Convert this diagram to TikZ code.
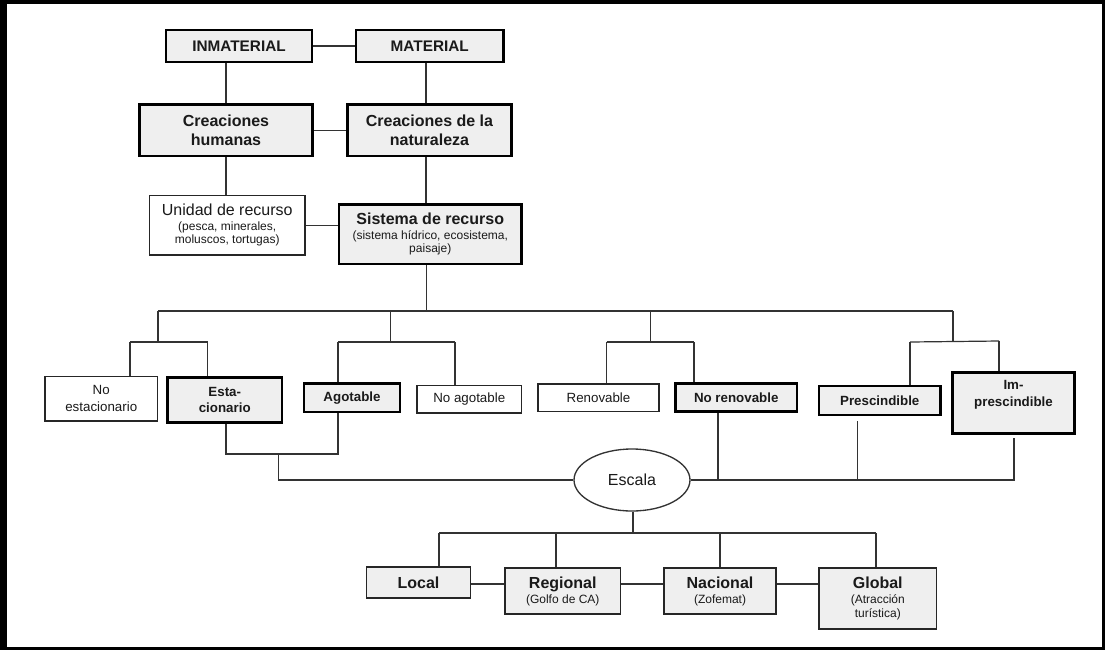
\documentclass[tikz,border=0pt]{standalone}
\usepackage{fontspec}
\setmainfont{Liberation Sans}
\usetikzlibrary{shapes.geometric,calc}
\definecolor{boxfill}{HTML}{EFEFEF}
\definecolor{ln}{HTML}{333333}
\definecolor{txt}{HTML}{1A1A1A}
\begin{document}
\begin{tikzpicture}[x=0.75pt,y=-0.75pt,
  sz/.style 2 args={minimum width=#1*0.75pt, minimum height=#2*0.75pt},
  base/.style={rectangle, inner sep=0pt, align=center, text=txt},
  gbox/.style={base, draw=black, line width=2pt, fill=boxfill},
  wbox/.style={base, draw=black!85, line width=1pt, fill=white},
  lbox/.style={base, draw=black!85, line width=1.2pt, fill=boxfill},
  conn/.style={draw=ln, line width=0.9pt},
  topf/.style={font=\fontsize{11.5}{13}\selectfont\bfseries},
  bigb/.style={font=\fontsize{12}{13.75}\selectfont\bfseries},
  smallf/.style={font=\fontsize{9}{10}\selectfont},
  midf/.style={font=\fontsize{10}{12.5}\selectfont},
  midb/.style={font=\fontsize{10}{12.5}\selectfont\bfseries},
  lowf/.style={font=\fontsize{9}{10.5}\selectfont}
]
\useasboundingbox (0,0) rectangle (1105,650);
\fill[black] (0,0) rectangle (1105,650);
\fill[white] (7,3.5) rectangle (1101.5,646.5);

% top levels
\node[gbox,sz={146}{32},topf] (inm) at (239,46) {INMATERIAL};
\node[gbox,sz={147.5}{32},topf] (mat) at (429.75,46) {MATERIAL};
\node[gbox,sz={173}{51.5},bigb] (ch) at (226,130.25) {Creaciones\\humanas};
\node[gbox,sz={164}{51.5},bigb] (cn) at (429.5,130.25) {Creaciones de la\\naturaleza};
\node[wbox,sz={155.5}{59.5},smallf] (uni) at (227.25,225.25)
  {{\fontsize{12}{14}\selectfont Unidad de recurso}\\[1pt](pesca, minerales,\\moluscos, tortugas)};
\node[gbox,sz={182.5}{59.5},smallf] (sis) at (430.25,234.25)
  {{\fontsize{12}{14}\selectfont\bfseries Sistema de recurso}\\[1pt](sistema hídrico, ecosistema,\\paisaje)};

% classification row
\node[wbox,sz={112.5}{44.5},midf] (noest) at (101.25,398.75) {No\\estacionario};
\node[gbox,sz={114.5}{45},midb] (est) at (224.75,400) {Esta-\\cionario};
\node[gbox,sz={96}{28.5},midb] (ago) at (352,397.75) {Agotable};
\node[wbox,sz={104.5}{27.5},midf] (noago) at (469.25,399.25) {No agotable};
\node[wbox,sz={121}{27.5},midf] (ren) at (598.5,397.75) {Renovable};
\node[gbox,sz={121.5}{28},midb] (noren) at (736.25,397.5) {No renovable};
\node[gbox,sz={121.5}{29},midb] (pre) at (879.75,400.5) {Prescindible};
\node[gbox,sz={122}{61}] (imp) at (1013.5,403) {};
\node[base,midb] (impt) at (1013.5,395) {Im-\\prescindible};

% scale
\node[ellipse, draw=ln, line width=1pt, fill=white, inner sep=0pt, sz={116}{62},
  text=txt, font=\fontsize{12}{14}\selectfont] (esc) at (632,480) {Escala};
\node[lbox,sz={104}{31},font=\fontsize{12}{14}\selectfont\bfseries] (loc) at (418.5,582.5) {Local};
\node[lbox,sz={115.5}{46},lowf] (reg) at (562.75,591)
  {{\fontsize{12}{14}\selectfont\bfseries Regional}\\[0.8pt](Golfo de CA)};
\node[lbox,sz={112}{46},lowf] (nac) at (720,591)
  {{\fontsize{12}{14}\selectfont\bfseries Nacional}\\[0.8pt](Zofemat)};
\node[lbox,sz={117.5}{61},lowf] (glo) at (877.75,598.5)
  {{\fontsize{12}{14}\selectfont\bfseries Global}\\[0.8pt](Atracción\\turística)};

% connectors, upper part
\coordinate (xr) at (426,0);
\draw[conn] (inm) -- (mat);
\draw[conn] (ch.north) -- (ch.north |- inm.south);
\draw[conn] (cn.north -| xr) -- (mat.south -| xr);
\draw[conn] (ch) -- (cn);
\draw[conn] (ch.south) -- (ch.south |- uni.north);
\draw[conn] (cn.south -| xr) -- (sis.north -| xr);
\draw[conn] (uni.east) -- (uni.east -| sis.west);

% main bar
\coordinate (t) at (426.5,311);
\coordinate (tl) at (158,311);
\coordinate (tr) at (953,311);
\draw[conn] (sis.south -| t) -- (t);
\draw[conn] (tl) -- (tr);

% group 1
\coordinate (g1) at (158,342);
\coordinate (g1l) at (130,342);
\coordinate (g1r) at (207.7,342);
\draw[conn] (tl) -- (g1);
\draw[conn] (g1l) -- (g1r);
\draw[conn] (g1l) -- (g1l |- noest.north);
\draw[conn] (g1r) -- (g1r |- est.north);
% group 2
\coordinate (g2t) at (390.7,311);
\coordinate (g2) at (390.7,342);
\coordinate (g2l) at (338,342);
\coordinate (g2r) at (455,342);
\draw[conn] (g2t) -- (g2);
\draw[conn] (g2l) -- (g2r);
\draw[conn] (g2l) -- (g2l |- ago.north);
\draw[conn] (g2r) -- (g2r |- noago.north);
% group 3
\coordinate (g3t) at (650.7,311);
\coordinate (g3) at (650.7,342);
\coordinate (g3l) at (606.7,342);
\coordinate (g3r) at (694,342);
\draw[conn] (g3t) -- (g3);
\draw[conn] (g3l) -- (g3r);
\draw[conn] (g3l) -- (g3l |- ren.north);
\draw[conn] (g3r) -- (g3r |- noren.north);
% group 4
\coordinate (g4) at (953,342);
\coordinate (g4l) at (910,342);
\coordinate (g4r) at (999,341);
\draw[conn] (tr) -- (g4);
\draw[conn] (g4l) -- (g4r);
\draw[conn] (g4l) -- (g4l |- pre.north);
\draw[conn] (g4r) -- (g4r |- imp.north);

% to Escala, left
\coordinate (e1) at (226,454);
\coordinate (e2) at (338,454);
\coordinate (em) at (278.7,454);
\coordinate (el) at (278.7,480);
\draw[conn] (est.south -| e1) -- (e1) -- (e2) -- (ago.south -| e2);
\draw[conn] (em) -- (el) -- (esc.west);
% to Escala, right
\coordinate (er) at (1014,480);
\coordinate (nr) at (718,480);
\coordinate (pr) at (857.7,480);
\draw[conn] (esc.east) -- (er) -- ($(imp.south -| er)+(0,3)$);
\draw[conn] (noren.south -| nr) -- (nr);
\draw[conn] ($(pre.south -| pr)+(0,5)$) -- (pr);

% scale levels
\coordinate (es) at (633,533);
\coordinate (bl) at (439,533);
\coordinate (br) at (876,533);
\coordinate (b2) at (556,533);
\coordinate (b3) at (720,533);
\coordinate (ly) at (0,584);
\draw[conn] (esc.south -| es) -- (es);
\draw[conn] (bl) -- (br);
\draw[conn] (bl) -- (bl |- loc.north);
\draw[conn] (b2) -- (b2 |- reg.north);
\draw[conn] (b3) -- (b3 |- nac.north);
\draw[conn] (br) -- (br |- glo.north);
\draw[conn] (loc.east |- ly) -- (reg.west |- ly);
\draw[conn] (reg.east |- ly) -- (nac.west |- ly);
\draw[conn] (nac.east |- ly) -- (glo.west |- ly);
\end{tikzpicture}
\end{document}
